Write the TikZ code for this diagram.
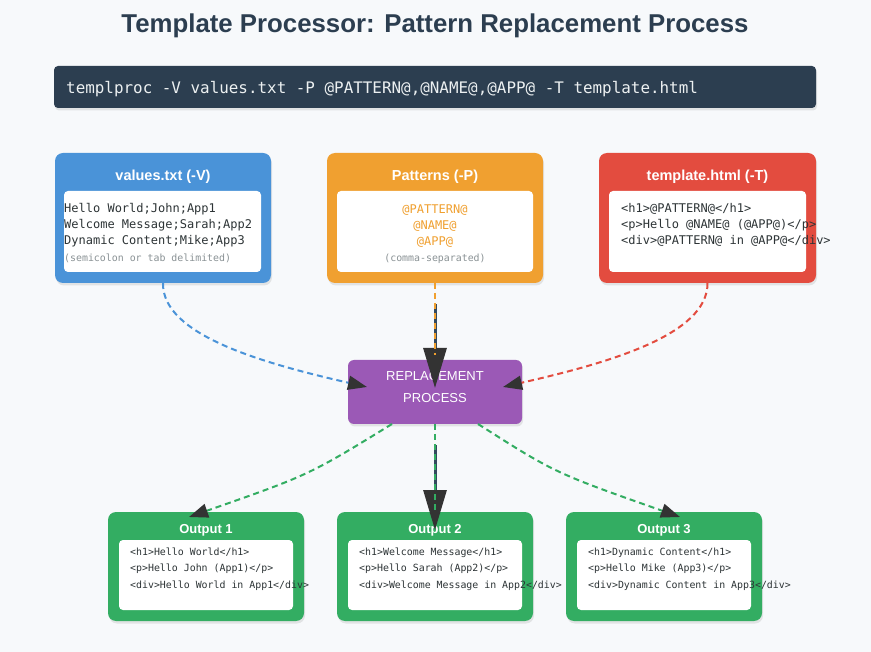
\documentclass[tikz,border=0pt]{standalone}
\usepackage{fontspec}
\setmainfont{Liberation Sans}
\newfontfamily\codefont{DejaVu Sans Mono}
\usetikzlibrary{arrows.meta,shadows}
\definecolor{bgcol}{HTML}{F7F9FB}
\definecolor{titlec}{HTML}{2C3E50}
\definecolor{navyc}{HTML}{2C3E50}
\definecolor{cmdtext}{HTML}{ECF0F1}
\definecolor{bluec}{HTML}{4A93D8}
\definecolor{orangec}{HTML}{F0A030}
\definecolor{redc}{HTML}{E34C3F}
\definecolor{purplec}{HTML}{9B59B6}
\definecolor{greenc}{HTML}{33AD62}
\definecolor{codecol}{HTML}{2D3436}
\definecolor{notecol}{HTML}{8A9295}
\definecolor{tipcol}{HTML}{333333}
\definecolor{darkline}{HTML}{34495E}
\begin{document}
\begin{tikzpicture}[x=1pt,y=-1pt,
  box/.style={rounded corners=8pt, inner sep=0pt, outer sep=0pt,
    drop shadow={opacity=0.18,shadow xshift=1pt,shadow yshift=-2.5pt}},
  innerbox/.style={fill=white, rounded corners=4pt, inner sep=0pt, outer sep=0pt},
  hdr/.style={font=\bfseries\fontsize{14.5}{16}\selectfont, text=white, anchor=base, inner sep=0pt},
  ohdr/.style={font=\bfseries\fontsize{13}{15}\selectfont, text=white, anchor=base, inner sep=0pt},
  code/.style={font=\codefont\fontsize{12}{14}\selectfont, text=codecol, anchor=base west, inner sep=0pt},
  codec/.style={font=\codefont\fontsize{12}{14}\selectfont, text=orangec, anchor=base, inner sep=0pt},
  small/.style={font=\codefont\fontsize{9.9}{12}\selectfont, text=codecol, anchor=base west, inner sep=0pt},
  note/.style={font=\codefont\fontsize{9.9}{12}\selectfont, text=notecol, inner sep=0pt},
  flow/.style={dash pattern=on 6pt off 4pt, line width=2pt},
  tipS/.style={-{Triangle[length=19pt,width=14pt,color=tipcol]}},
  tipB/.style={-{Triangle[length=40pt,width=23pt,color=tipcol]}},
  thick line/.style={line width=3pt, draw=darkline}
]
\fill[bgcol] (0,0) rectangle (871,652);
\useasboundingbox (0,0) rectangle (871,652);

% title
\node[anchor=base, font=\bfseries\fontsize{25.8}{30}\selectfont, text=titlec, inner sep=0pt] (title) at (435,33) {Template Processor: Pattern Replacement Process};

% command bar
\node[fill=navyc, rounded corners=4pt, inner sep=0pt, minimum width=762pt, minimum height=42pt,
  drop shadow={opacity=0.18,shadow xshift=1pt,shadow yshift=-2.5pt}] (cmd) at (435,87) {};
\node[anchor=base west, font=\codefont\fontsize{15.9}{18}\selectfont, text=cmdtext, inner sep=0pt] (cmdt) at (66,93.5) {templproc -V values.txt -P @PATTERN@,@NAME@,@APP@ -T template.html};

% values box
\node[box, fill=bluec, minimum width=216pt, minimum height=130pt] (vbox) at (163,218) {};
\node[innerbox, minimum width=197pt, minimum height=81pt] (vin) at (162.5,231.5) {};
\node[hdr] (vt) at (163,180.2) {values.txt (-V)};
\node[code] (v1) at (64,213) {Hello World;John;App1};
\node[code] (v2) at (64,229) {Welcome Message;Sarah;App2};
\node[code] (v3) at (64,245) {Dynamic Content;Mike;App3};
\node[note, anchor=base west] (v4) at (64,261.5) {(semicolon or tab delimited)};

% patterns box
\node[box, fill=orangec, minimum width=216pt, minimum height=130pt] (pbox) at (435,218) {};
\node[innerbox, minimum width=196pt, minimum height=81pt] (pin) at (435,231.5) {};
\node[hdr] (pt) at (435,180.2) {Patterns (-P)};
\node[codec] (p1) at (435,213.3) {@PATTERN@};
\node[codec] (p2) at (435,229.3) {@NAME@};
\node[codec] (p3) at (435,245.3) {@APP@};
\node[note, anchor=base] (p4) at (435,261.5) {(comma-separated)};

% template box
\node[box, fill=redc, minimum width=217pt, minimum height=130pt] (tbox) at (707.5,218) {};
\node[innerbox, minimum width=197pt, minimum height=81pt] (tin) at (707.5,231.5) {};
\node[hdr] (tt) at (707.5,180.2) {template.html (-T)};
\node[code] (t1) at (621,213) {<h1>@PATTERN@</h1>};
\node[code] (t2) at (621,229) {<p>Hello @NAME@ (@APP@)</p>};
\node[code] (t3) at (621,245) {<div>@PATTERN@ in @APP@</div>};

% process box
\node[box, rounded corners=6pt, fill=purplec, minimum width=174pt, minimum height=64pt] (proc) at (435,392) {};
\node[anchor=base, font=\fontsize{13}{15}\selectfont, text=white, inner sep=0pt] (pr1) at (435,380.7) {REPLACEMENT};
\node[anchor=base, font=\fontsize{13}{15}\selectfont, text=white, inner sep=0pt] (pr2) at (435,402.7) {PROCESS};

% outputs
\node[box, fill=greenc, minimum width=196pt, minimum height=109pt] (o1) at (206,566.5) {};
\node[innerbox, minimum width=174pt, minimum height=70pt] (o1in) at (206,575) {};
\node[ohdr] (o1t) at (206,533.6) {Output 1};
\node[small] (o1a) at (130,555.5) {<h1>Hello World</h1>};
\node[small] (o1b) at (130,571.5) {<p>Hello John (App1)</p>};
\node[small] (o1c) at (130,588.5) {<div>Hello World in App1</div>};

\node[box, fill=greenc, minimum width=196pt, minimum height=109pt] (o2) at (435,566.5) {};
\node[innerbox, minimum width=174pt, minimum height=70pt] (o2in) at (435,575) {};
\node[ohdr] (o2t) at (435,533.6) {Output 2};
\node[small] (o2a) at (359,555.5) {<h1>Welcome Message</h1>};
\node[small] (o2b) at (359,571.5) {<p>Hello Sarah (App2)</p>};
\node[small] (o2c) at (359,588.5) {<div>Welcome Message in App2</div>};

\node[box, fill=greenc, minimum width=196pt, minimum height=109pt] (o3) at (664,566.5) {};
\node[innerbox, minimum width=174pt, minimum height=70pt] (o3in) at (664,575) {};
\node[ohdr] (o3t) at (664,533.6) {Output 3};
\node[small] (o3a) at (588,555.5) {<h1>Dynamic Content</h1>};
\node[small] (o3b) at (588,571.5) {<p>Hello Mike (App3)</p>};
\node[small] (o3c) at (588,588.5) {<div>Dynamic Content in App3</div>};

% connector end points
\coordinate (pinL) at (367,387);
\coordinate (pinR) at (503,387);
\coordinate (topS) at (435,304);
\coordinate (pinT) at (435,388);
\coordinate (topE) at (435,355);
\coordinate (botS) at (435,445);
\coordinate (pinB) at (435,530);
\coordinate (botE) at (435,513);
\coordinate (o1pin) at (189,517);
\coordinate (o3pin) at (680,517);

% inputs -> process
\draw[flow, draw=bluec, tipS] (vbox.south) .. controls (162,335) and (262,363) .. (pinL);
\draw[flow, draw=redc, tipS] (tbox.south) .. controls (708,335) and (608,363) .. (pinR);
\draw[thick line, tipB] (topS) -- (pinT);
\draw[flow, draw=orangec] (pbox.south) -- (topE);

% process -> outputs
\draw[flow, draw=greenc, tipS] ([xshift=-43pt]proc.south) .. controls (309,475) .. (o1pin);
\draw[flow, draw=greenc, tipS] ([xshift=43pt]proc.south) .. controls (555,473) .. (o3pin);
\draw[thick line, tipB] (botS) -- (pinB);
\draw[flow, draw=greenc] (proc.south) -- (botE);
\end{tikzpicture}
\end{document}
